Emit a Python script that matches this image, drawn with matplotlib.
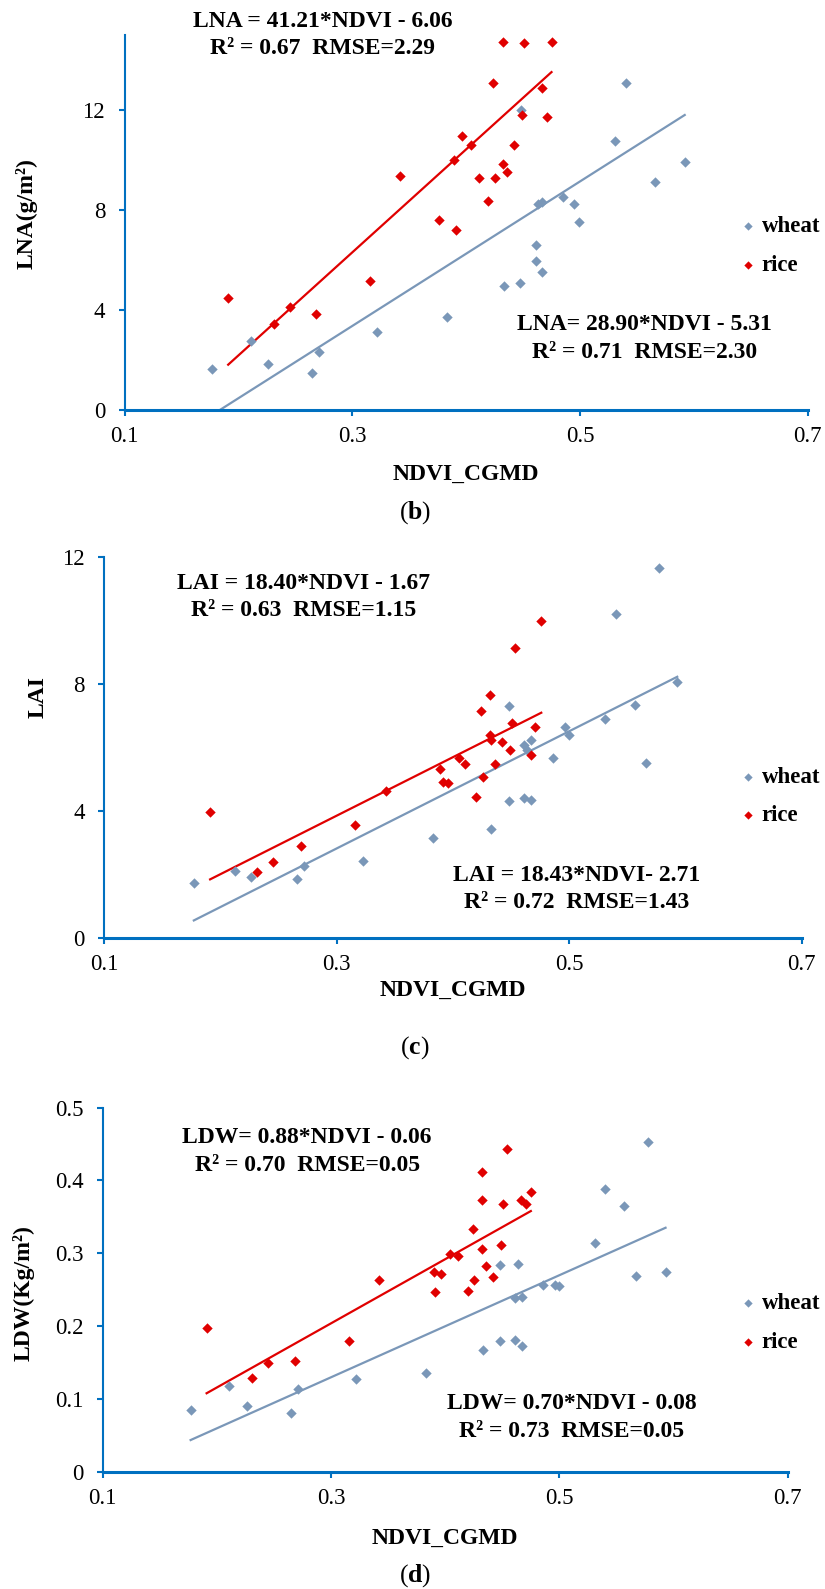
import numpy as np
import matplotlib
matplotlib.use("Agg")
import matplotlib.pyplot as plt
from matplotlib.ticker import FuncFormatter

plt.rcParams['font.family'] = ['Liberation Serif', 'DejaVu Serif']
plt.rcParams['mathtext.fontset'] = 'custom'
plt.rcParams['mathtext.rm'] = 'Liberation Serif'
plt.rcParams['mathtext.bf'] = 'Liberation Serif:bold'

WHEAT = '#7A97B8'
RICE = '#E00000'
AXIS = '#0070C0'

# (b) leaf nitrogen accumulation
lna_wheat_ndvi = [0.177, 0.211, 0.226, 0.265, 0.271, 0.322, 0.383, 0.433, 0.447, 0.461, 0.461,
                  0.467, 0.463, 0.467, 0.485, 0.495, 0.499, 0.448, 0.531, 0.540, 0.566, 0.592]
lna_wheat = [1.63, 2.76, 1.83, 1.49, 2.32, 3.11, 3.70, 4.94, 5.06, 6.58, 5.94,
             5.50, 8.24, 8.30, 8.50, 8.22, 7.52, 12.01, 10.76, 13.07, 9.10, 9.93]
lna_rice_ndvi = [0.191, 0.231, 0.245, 0.268, 0.316, 0.342, 0.376, 0.391, 0.389, 0.396, 0.404, 0.411,
                 0.419, 0.425, 0.432, 0.436, 0.442, 0.424, 0.432, 0.451, 0.475, 0.467, 0.449, 0.471]
lna_rice = [4.47, 3.42, 4.10, 3.82, 5.15, 9.34, 7.60, 7.18, 10.00, 10.97, 10.58, 9.28,
            8.37, 9.28, 9.82, 9.50, 10.58, 13.08, 14.73, 14.67, 14.71, 12.88, 11.81, 11.72]
lna_fit_wheat = (28.90, -5.31)
lna_fit_rice = (41.21, -6.06)

# (c) leaf area index
lai_wheat_ndvi = [0.177, 0.212, 0.226, 0.266, 0.272, 0.323, 0.383, 0.433, 0.448, 0.461, 0.467, 0.448,
                  0.461, 0.464, 0.467, 0.486, 0.496, 0.500, 0.531, 0.540, 0.557, 0.566, 0.577, 0.593]
lai_wheat = [1.72, 2.12, 1.91, 1.85, 2.25, 2.43, 3.16, 3.44, 4.32, 4.40, 4.35, 7.30,
             6.08, 5.92, 6.24, 5.66, 6.65, 6.39, 6.90, 10.21, 7.33, 5.52, 11.63, 8.04]
lai_rice_ndvi = [0.191, 0.231, 0.245, 0.269, 0.316, 0.342, 0.389, 0.391, 0.396, 0.405, 0.410, 0.420, 0.426,
                 0.424, 0.432, 0.432, 0.433, 0.436, 0.442, 0.449, 0.451, 0.453, 0.467, 0.471, 0.476]
lai_rice = [3.98, 2.08, 2.38, 2.90, 3.57, 4.64, 5.32, 4.92, 4.88, 5.66, 5.47, 4.44, 5.07,
            7.15, 7.65, 6.39, 6.24, 5.49, 6.18, 5.91, 6.76, 9.11, 5.77, 6.65, 9.98]
lai_fit_wheat = (18.43, -2.71)
lai_fit_rice = (18.40, -1.67)

# (d) leaf dry weight
ldw_wheat_ndvi = [0.177, 0.211, 0.226, 0.265, 0.271, 0.322, 0.383, 0.433, 0.448, 0.461, 0.467, 0.448,
                  0.464, 0.461, 0.467, 0.486, 0.496, 0.500, 0.531, 0.540, 0.557, 0.567, 0.578, 0.593]
ldw_wheat = [0.085, 0.118, 0.090, 0.081, 0.114, 0.128, 0.136, 0.168, 0.180, 0.181, 0.173, 0.284,
             0.286, 0.239, 0.240, 0.256, 0.257, 0.255, 0.314, 0.388, 0.365, 0.269, 0.453, 0.275]
ldw_rice_ndvi = [0.191, 0.231, 0.245, 0.268, 0.316, 0.342, 0.390, 0.391, 0.396, 0.404, 0.411, 0.420, 0.425,
                 0.424, 0.432, 0.432, 0.432, 0.436, 0.442, 0.449, 0.451, 0.454, 0.466, 0.471, 0.475]
ldw_rice = [0.198, 0.129, 0.150, 0.152, 0.180, 0.264, 0.275, 0.247, 0.272, 0.299, 0.297, 0.249, 0.263,
            0.334, 0.412, 0.373, 0.306, 0.283, 0.267, 0.311, 0.368, 0.443, 0.373, 0.368, 0.384]
ldw_fit_wheat = (0.70, -0.08)
ldw_fit_rice = (0.88, -0.06)

x_ticks = [0.1, 0.3, 0.5, 0.7]

panels = [
    dict(rect=[0.1510, 0.7420, 0.8280, 0.2360], ylim=15, yticks=[0, 4, 8, 12],
         ylabel='LNA(g/m²)', ylab_xy=(-0.1436, 0.523), xlab_y=-0.171,
         wx=lna_wheat_ndvi, wy=lna_wheat, rx=lna_rice_ndvi, ry=lna_rice,
         wfit=lna_fit_wheat, rfit=lna_fit_rice,
         req=['LNA = 41.21*NDVI - 6.06', 'R² = 0.67  RMSE=2.29'], req_xy=(0.290, 1.036, 0.9645),
         weq=['LNA= 28.90*NDVI - 5.31', 'R² = 0.71  RMSE=2.30'], weq_xy=(0.761, 0.229, 0.153),
         leg=(0.9025, 0.437), tag='($\\mathbf{b}$)', tag_y=0.6772),
    dict(rect=[0.1265, 0.4097, 0.8451, 0.2400], ylim=12, yticks=[0, 4, 8, 12],
         ylabel='LAI', ylab_xy=(-0.0945, 0.632), xlab_y=-0.136,
         wx=lai_wheat_ndvi, wy=lai_wheat, rx=lai_rice_ndvi, ry=lai_rice,
         wfit=lai_fit_wheat, rfit=lai_fit_rice,
         req=['LAI = 18.40*NDVI - 1.67', 'R² = 0.63  RMSE=1.15'], req_xy=(0.2856, 0.930, 0.8576),
         weq=['LAI = 18.43*NDVI- 2.71', 'R² = 0.72  RMSE=1.43'], weq_xy=(0.678, 0.165, 0.094),
         leg=(0.9133, 0.372), tag='($\\mathbf{c}$)', tag_y=0.3405),
    dict(rect=[0.1245, 0.0736, 0.8303, 0.2294], ylim=0.5, yticks=[0, 0.1, 0.2, 0.3, 0.4, 0.5],
         ylabel='LDW(Kg/m²)', ylab_xy=(-0.1156, 0.491), xlab_y=-0.183,
         wx=ldw_wheat_ndvi, wy=ldw_wheat, rx=ldw_rice_ndvi, ry=ldw_rice,
         wfit=ldw_fit_wheat, rfit=ldw_fit_rice,
         req=['LDW= 0.88*NDVI - 0.06', 'R² = 0.70  RMSE=0.05'], req_xy=(0.2985, 0.918, 0.842),
         weq=['LDW= 0.70*NDVI - 0.08', 'R² = 0.73  RMSE=0.05'], weq_xy=(0.685, 0.1885, 0.1125),
         leg=(0.9320, 0.409), tag='($\\mathbf{d}$)', tag_y=0.0082),
]

fig = plt.figure(figsize=(8.25, 15.89), dpi=100)

for p in panels:
    ax = fig.add_axes(p['rect'])
    hw = ax.scatter(p['wx'], p['wy'], marker='D', s=28, color=WHEAT, linewidths=0, zorder=3, label='wheat')
    hr = ax.scatter(p['rx'], p['ry'], marker='D', s=28, color=RICE, linewidths=0, zorder=3, label='rice')

    # linear trend lines over the range of each crop
    for xs, fit, c in [(p['wx'], p['wfit'], WHEAT), (p['rx'], p['rfit'], RICE)]:
        xx = np.array([min(xs), max(xs)])
        ax.plot(xx, fit[0] * xx + fit[1], color=c, lw=1.6, zorder=2)

    ax.set_xlim(0.1, 0.7)
    ax.set_ylim(0, p['ylim'])
    ax.set_xticks(x_ticks)
    ax.set_yticks(p['yticks'])
    ax.xaxis.set_major_formatter(FuncFormatter(lambda v, _: f'{v:.1f}'))
    ax.yaxis.set_major_formatter(FuncFormatter(lambda v, _: '0' if v == 0 else f'{v:g}'))

    for s in ['top', 'right']:
        ax.spines[s].set_visible(False)
    ax.spines['left'].set_color(AXIS)
    ax.spines['left'].set_linewidth(1.5)
    ax.spines['bottom'].set_color(AXIS)
    ax.spines['bottom'].set_linewidth(2.2)
    ax.tick_params(axis='both', direction='out', length=4.5, width=1.5, color=AXIS, labelsize=16.5)
    ax.tick_params(axis='x', pad=7)
    ax.tick_params(axis='y', pad=9.5)

    ax.set_xlabel('NDVI_CGMD', fontsize=17, fontweight='bold')
    ax.xaxis.set_label_coords(0.5, p['xlab_y'])
    ax.xaxis.label.set_va('center')
    ax.set_ylabel(p['ylabel'], fontsize=17, fontweight='bold')
    ax.yaxis.set_label_coords(*p['ylab_xy'])
    ax.yaxis.label.set_va('center')

    for lines, xy in [(p['req'], p['req_xy']), (p['weq'], p['weq_xy'])]:
        ax.text(xy[0], xy[1], lines[0], transform=ax.transAxes, ha='center', va='center',
                fontsize=17, fontweight='bold', clip_on=False)
        ax.text(xy[0], xy[2], lines[1], transform=ax.transAxes, ha='center', va='center',
                fontsize=17, fontweight='bold', clip_on=False)

    ax.legend(handles=[hw, hr], loc='center left', bbox_to_anchor=p['leg'], frameon=False,
              prop={'size': 16.5, 'weight': 'bold'}, borderpad=0, borderaxespad=0,
              handlelength=0.6, handletextpad=0.3, labelspacing=0.75, markerscale=0.8)

    fig.text(0.503, p['tag_y'], p['tag'], ha='center', va='center', fontsize=18.5)

fig.savefig('out.png', dpi=100)
